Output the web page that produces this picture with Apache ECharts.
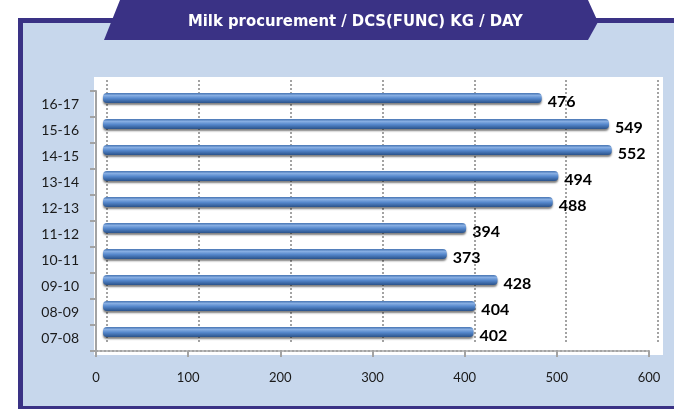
<!DOCTYPE html>
<html>
<head>
<meta charset="utf-8">
<title>Milk procurement</title>
<script src="https://cdn.jsdelivr.net/npm/echarts@6/dist/echarts.min.js"></script>
<style>
  html, body { margin: 0; padding: 0; background: #fff; }
  #chart { width: 674px; height: 409px; }
</style>
</head>
<body>
<div id="chart"></div>
<script>
  // data
  var years = ['07-08', '08-09', '09-10', '10-11', '11-12', '12-13', '13-14', '14-15', '15-16', '16-17'];
  var procurement = [402, 404, 428, 373, 394, 488, 494, 552, 549, 476];
  var axisMax = 600;
  var axisStep = 100;
  var titleText = 'Milk procurement / DCS(FUNC) KG / DAY';

  var navy = '#3a3285';
  var panel = '#c7d7ec';
  var gridGray = '#a3a3a3';

  var myChart = echarts.init(document.getElementById('chart'));

  var barColor = new echarts.graphic.LinearGradient(0, 0, 0, 1, [
    {offset: 0, color: '#4674b2'},
    {offset: 0.25, color: '#86ade2'},
    {offset: 0.55, color: '#5587cb'},
    {offset: 1, color: '#2a528a'}
  ]);

  var option = {
    animation: false,
    title: {
      text: titleText,
      left: 183,
      top: 8,
      textStyle: {
        color: '#ffffff',
        fontSize: 16.5,
        fontWeight: 'bold',
        fontFamily: "'DejaVu Sans Condensed', sans-serif"
      }
    },
    graphic: [
      {type: 'rect', z: -10, shape: {x: 18, y: 18, width: 700, height: 391}, style: {fill: navy}},
      {type: 'rect', z: -9, shape: {x: 23, y: 23, width: 700, height: 383}, style: {fill: panel}},
      {type: 'polygon', z: -8, shape: {points: [[120, 0], [588, 0], [598, 22], [588, 40], [104, 40]]}, style: {fill: navy}},
      {type: 'rect', z: -8, shape: {x: 94, y: 77, width: 569, height: 278}, style: {fill: '#ffffff'}}
    ],
    grid: [
      // front axes
      {left: 96, width: 553, top: 91, height: 260},
      // back wall with grid lines
      {left: 107, width: 551, top: 80, height: 264},
      // bars
      {left: 103, width: 553, top: 85, height: 260}
    ],
    xAxis: [
      {
        gridIndex: 0, type: 'value', min: 0, max: axisMax, interval: axisStep,
        axisLine: {show: true, lineStyle: {color: gridGray, type: 'dotted', width: 2}},
        axisTick: {show: true, length: 6, lineStyle: {color: gridGray, width: 2}},
        splitLine: {show: false},
        axisLabel: {margin: 20, color: '#1a1a1a', fontSize: 13, fontFamily: 'Lato, sans-serif'}
      },
      {
        gridIndex: 1, type: 'value', min: 0, max: axisMax, interval: axisStep,
        axisLine: {show: false}, axisTick: {show: false}, axisLabel: {show: false},
        splitLine: {show: true, lineStyle: {color: gridGray, type: 'dotted', width: 2}}
      },
      {gridIndex: 2, type: 'value', min: 0, max: axisMax, show: false}
    ],
    yAxis: [
      {
        gridIndex: 0, type: 'category', data: years,
        axisLine: {show: true, lineStyle: {color: gridGray, width: 2}},
        axisTick: {show: true, length: 6, lineStyle: {color: gridGray, width: 2}},
        axisLabel: {margin: 17, color: '#1a1a1a', fontSize: 14, fontFamily: 'Lato, sans-serif'}
      },
      {gridIndex: 1, type: 'value', min: 0, max: 1, show: false},
      {gridIndex: 2, type: 'category', data: years, show: false}
    ],
    series: [
      {
        name: 'Milk procurement',
        type: 'bar',
        xAxisIndex: 2,
        yAxisIndex: 2,
        data: procurement,
        barWidth: 10,
        itemStyle: {
          color: barColor,
          borderRadius: 4,
          shadowColor: 'rgba(0,0,0,0.5)',
          shadowBlur: 2,
          shadowOffsetY: 2
        },
        label: {
          show: true,
          position: 'right',
          distance: 6,
          offset: [0, 4],
          color: '#000',
          fontSize: 16,
          fontWeight: 'bold',
          fontFamily: 'Lato, sans-serif'
        }
      }
    ]
  };

  myChart.setOption(option);
</script>
</body>
</html>
